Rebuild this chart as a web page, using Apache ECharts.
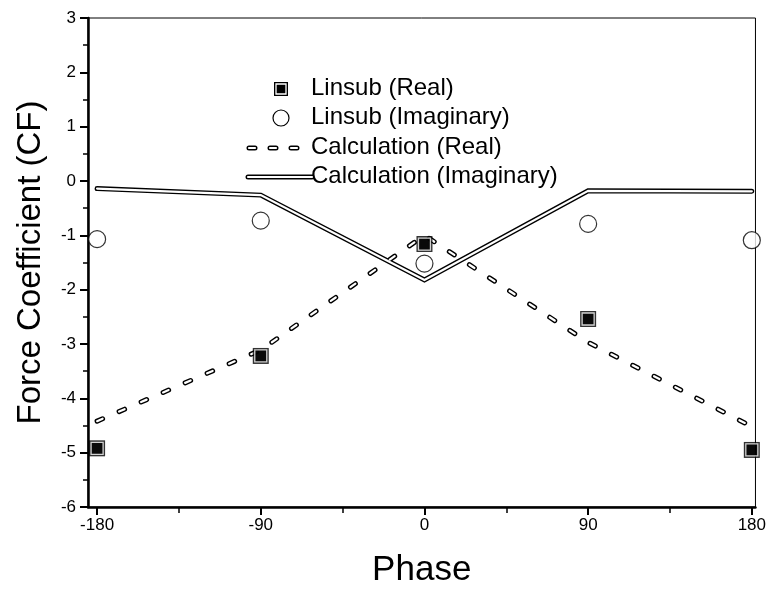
<!DOCTYPE html>
<html>
<head>
<meta charset="utf-8">
<script src="https://cdn.jsdelivr.net/npm/echarts@6/dist/echarts.min.js"></script>
<style>html,body{margin:0;padding:0;background:#fff;}#c{width:769px;height:593px;}</style>
</head>
<body>
<div id="c"></div>
<script>
// ---- data ----
var phase = [-180, -90, 0, 90, 180];
var linsubReal = [-4.92, -3.22, -1.16, -2.54, -4.95];
var linsubImag = [-1.07, -0.73, -1.52, -0.79, -1.09];
var calcReal = [-4.42, -3.11, -1.0, -2.97, -4.52];
var calcImag = [-0.14, -0.26, -1.82, -0.18, -0.19];
var xMajorTicks = [-180, -90, 0, 90, 180];
var xMinorTicks = [-135, -45, 45, 135];
var legendNames = ['Linsub (Real)', 'Linsub (Imaginary)', 'Calculation (Real)', 'Calculation (Imaginary)'];

function pairs(ys) { return phase.map(function (p, i) { return [p, ys[i]]; }); }

var FONT = '"Liberation Sans", Arial, sans-serif';
var chart = echarts.init(document.getElementById('c'), null, {renderer: 'canvas'});

var rows = [89, 118, 148, 177];
var legendX = 311;
var graphics = [];
legendNames.forEach(function (n, i) {
  graphics.push({type: 'text', left: legendX, top: rows[i] - 13, z: 10,
    style: {text: n, fill: '#000', font: '24px ' + FONT}});
});
// legend symbols
graphics.push({type: 'rect', z: 10, shape: {x: 274, y: rows[0] - 7, width: 14, height: 14}, style: {fill: '#000'}});
graphics.push({type: 'rect', z: 11, shape: {x: 276, y: rows[0] - 5, width: 10, height: 10}, style: {fill: '#000', stroke: '#fff', lineWidth: 1.3}});
graphics.push({type: 'circle', z: 10, shape: {cx: 281, cy: rows[1], r: 8}, style: {fill: '#fff', stroke: '#000', lineWidth: 1.2}});
graphics.push({type: 'line', z: 10, shape: {x1: 249, y1: rows[2], x2: 302, y2: rows[2]}, style: {stroke: '#000', lineWidth: 5, lineDash: [6, 15], lineCap: 'round'}});
graphics.push({type: 'line', z: 11, shape: {x1: 249, y1: rows[2], x2: 302, y2: rows[2]}, style: {stroke: '#fff', lineWidth: 2.2, lineDash: [6, 15], lineCap: 'round'}});
graphics.push({type: 'line', z: 10, shape: {x1: 248, y1: rows[3], x2: 312, y2: rows[3]}, style: {stroke: '#000', lineWidth: 5, lineCap: 'round'}});
graphics.push({type: 'line', z: 11, shape: {x1: 248, y1: rows[3], x2: 312, y2: rows[3]}, style: {stroke: '#fff', lineWidth: 2.2, lineCap: 'round'}});

var option = {
  animation: false,
  backgroundColor: '#fff',
  grid: {left: 88, top: 18, right: 11, bottom: 85, show: true, borderColor: '#000', borderWidth: 1},
  xAxis: [{
    type: 'value', min: -185, max: 182,
    name: 'Phase', nameLocation: 'middle', nameGap: 46,
    nameTextStyle: {fontSize: 35, color: '#000', fontFamily: FONT},
    axisLine: {show: true, onZero: false, lineStyle: {color: '#000', width: 2.5}},
    axisTick: {show: true, customValues: xMajorTicks, length: 8, lineStyle: {color: '#000', width: 2}},
    axisLabel: {customValues: xMajorTicks, color: '#000', fontSize: 17, fontFamily: FONT, margin: 10},
    splitLine: {show: false}
  }, {
    type: 'value', min: -185, max: 182, position: 'bottom',
    axisLine: {show: false, onZero: false},
    axisTick: {show: true, customValues: xMinorTicks, length: 6, lineStyle: {color: '#000', width: 1.5}},
    axisLabel: {show: false},
    splitLine: {show: false}
  }],
  yAxis: {
    type: 'value', min: -6, max: 3, interval: 1,
    name: 'Force Coefficient (CF)', nameLocation: 'middle', nameGap: 41,
    nameTextStyle: {fontSize: 33, color: '#000', fontFamily: FONT},
    axisLine: {show: true, onZero: false, lineStyle: {color: '#000', width: 2.5}},
    axisTick: {show: true, length: 8, lineStyle: {color: '#000', width: 2}},
    minorTick: {show: true, splitNumber: 2, length: 5, lineStyle: {color: '#000', width: 1.5}},
    axisLabel: {color: '#000', fontSize: 17, fontFamily: FONT, margin: 12},
    splitLine: {show: false}, minorSplitLine: {show: false}
  },
  graphic: graphics,
  series: [
    {name: legendNames[3], type: 'line', data: pairs(calcImag), showSymbol: false, z: 2,
      lineStyle: {color: '#000', width: 5, cap: 'round', join: 'miter'}},
    {name: legendNames[3] + ' inner', type: 'line', data: pairs(calcImag), showSymbol: false, z: 3,
      lineStyle: {color: '#fff', width: 2.2, cap: 'round', join: 'miter'}},
    {name: legendNames[2], type: 'line', data: pairs(calcReal), showSymbol: false, z: 2,
      lineStyle: {color: '#000', width: 5, type: [6, 18], cap: 'round'}},
    {name: legendNames[2] + ' inner', type: 'line', data: pairs(calcReal), showSymbol: false, z: 3,
      lineStyle: {color: '#fff', width: 2.2, type: [6, 18], cap: 'round'}},
    {name: legendNames[1], type: 'scatter', data: pairs(linsubImag), symbol: 'circle', symbolSize: 17, z: 4,
      itemStyle: {color: '#fff', borderColor: '#000', borderWidth: 1.2}},
    {name: legendNames[0], type: 'scatter', data: pairs(linsubReal), symbol: 'rect', symbolSize: 16, z: 5,
      itemStyle: {color: '#000'}},
    {name: legendNames[0] + ' inner', type: 'scatter', data: pairs(linsubReal), symbol: 'rect', symbolSize: 12, z: 6,
      itemStyle: {color: '#000', borderColor: '#fff', borderWidth: 1.3}}
  ]
};
chart.setOption(option);
</script>
</body>
</html>
